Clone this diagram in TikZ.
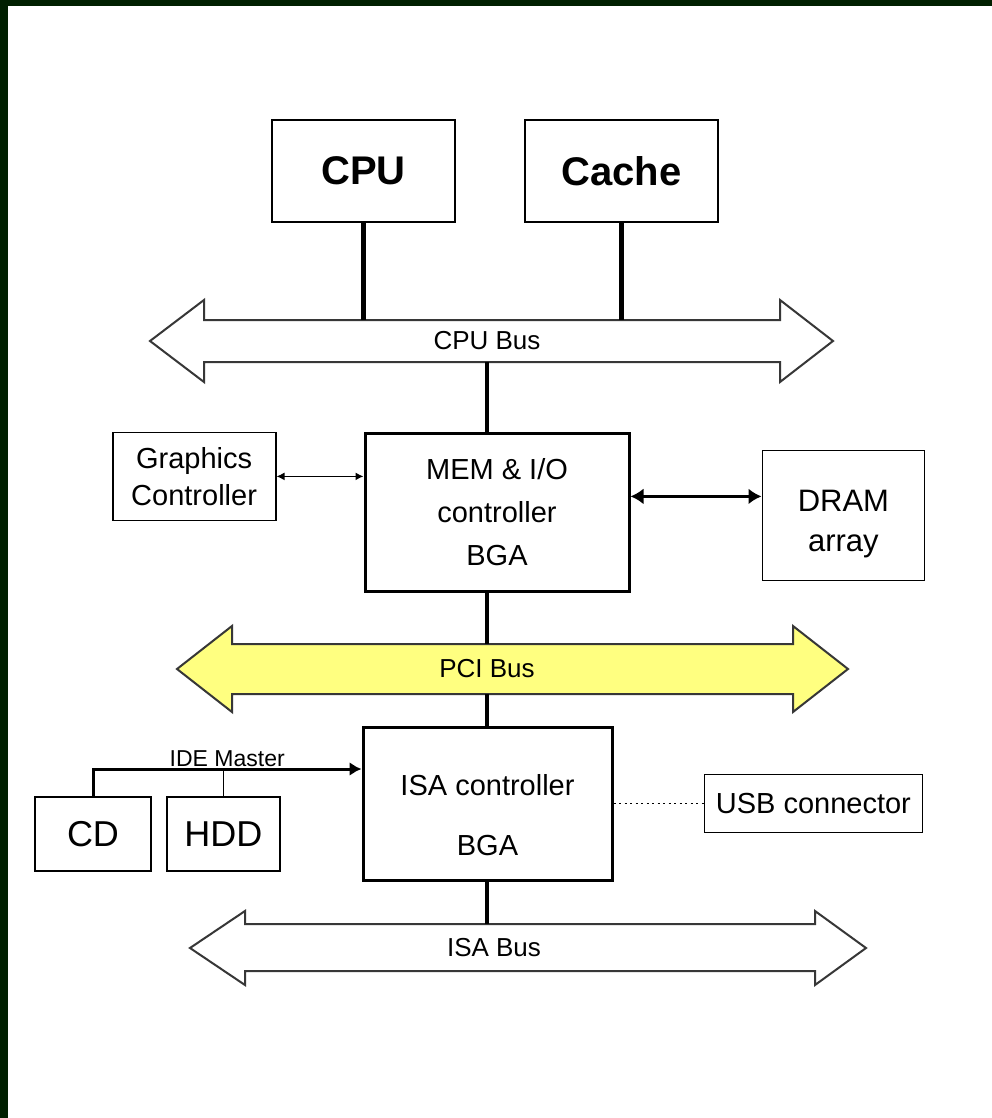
\documentclass[tikz,border=0pt]{standalone}
\usepackage{fontspec}
\setmainfont{Liberation Sans}
\usetikzlibrary{arrows.meta,positioning}
\definecolor{framegreen}{RGB}{0,32,0}
\definecolor{pciyellow}{RGB}{255,255,128}
\definecolor{busgray}{RGB}{55,55,55}
\tikzset{
  box/.style={draw=black,line width=1.8pt,fill=white,inner sep=0pt,align=center},
  chip/.style={draw=black,line width=3pt,fill=white,inner sep=0pt,align=center,
    font=\fontsize{29}{43}\selectfont},
  bigtxt/.style={font=\fontsize{40}{44}\selectfont\bfseries},
  lbl/.style={font=\fontsize{29}{37}\selectfont},
  drivetxt/.style={font=\fontsize{36}{40}\selectfont},
  buslab/.style={inner sep=0pt,font=\fontsize{26}{28}\selectfont},
  idelab/.style={inner sep=1pt,font=\fontsize{23}{25}\selectfont},
  busshape/.style={draw=busgray,line width=2pt,fill=white,line join=miter},
  trunkline/.style={line width=4.5pt},
  dropline/.style={line width=1.5pt},
  thinarr/.style={{Latex[length=8pt,width=8pt]}-{Latex[length=8pt,width=8pt]},line width=1.4pt},
  bigarr/.style={{Latex[length=13pt,width=16pt]}-{Latex[length=13pt,width=16pt]},line width=3pt},
  idearr/.style={-{Latex[length=12pt,width=14pt]},line width=3pt},
  usbline/.style={line width=1.8pt,dash pattern=on 2pt off 3.5pt}
}

\begin{document}
\begin{tikzpicture}[x=1pt,y=-1pt]
  \useasboundingbox (0,0) rectangle (992,1118);
  \fill[framegreen] (0,0) rectangle (992,1118);
  \fill[white] (8,6) rectangle (992,1118);

  % bus outlines
  \draw[busshape] (150,341) -- (204,300) -- (204,320) -- (780,320) -- (780,300)
    -- (833,341) -- (780,382) -- (780,362) -- (204,362) -- (204,382) -- cycle;
  \draw[busshape,fill=pciyellow] (177,669) -- (232,626) -- (232,644) -- (793,644)
    -- (793,626) -- (848,669) -- (793,712) -- (793,694) -- (232,694) -- (232,712) -- cycle;
  \draw[busshape] (190,948) -- (245,911) -- (245,924) -- (815,924) -- (815,911)
    -- (866,948) -- (815,985) -- (815,971) -- (245,971) -- (245,985) -- cycle;
  \node[buslab,minimum width=576pt,minimum height=42pt] (cpubus) at (487,341) {CPU Bus};
  \node[buslab,minimum width=561pt,minimum height=50pt] (pcibus) at (487,669) {PCI Bus};
  \node[buslab,minimum width=570pt,minimum height=47pt] (isabus) at (494,947.5) {ISA Bus};
  \coordinate (trunk) at (487,0);
  \coordinate (ide) at (0,769);

  \node[box,bigtxt,minimum width=183pt,minimum height=102pt] (cpu) at (363.5,171) {CPU};
  \node[box,bigtxt,minimum width=193pt,minimum height=102pt,right=68pt of cpu] (cache) {Cache};
  \node[chip,minimum width=264pt,minimum height=158pt] (mem) at (497,512)
    {MEM \& I/O\\controller\\BGA};
  \node[box,lbl,minimum width=163pt,minimum height=88pt,
    below left=0pt and 87pt of mem.north west] (gfx) {Graphics\\Controller};
  \node[box,lbl,font=\fontsize{31}{40}\selectfont,minimum width=162pt,minimum height=130pt,
    below right=18pt and 131pt of mem.north east] (dram) {\rule{0pt}{38pt}DRAM\\array};
  \node[chip,minimum width=249pt,minimum height=153pt] (isa) at (487.5,803.5)
    {\rule{0pt}{44pt}ISA controller\\[17pt]BGA};
  \node[box,lbl,minimum width=218pt,minimum height=58pt,right=90pt of isa] (usb) {USB connector};
  \node[box,drivetxt,minimum width=116pt,minimum height=74pt] (cd) at (93,834) {CD};
  \node[box,drivetxt,minimum width=113pt,minimum height=74pt,right=14pt of cd] (hdd) {HDD};

  \draw[trunkline] (cpu.south) -- (cpu.south |- cpubus.north);
  \draw[trunkline] (cache.south) -- (cache.south |- cpubus.north);
  \draw[trunkline] (cpubus.south -| trunk) -- (mem.north -| trunk);
  \draw[trunkline] (mem.south -| trunk) -- (pcibus.north -| trunk);
  \draw[trunkline] (pcibus.south -| trunk) -- (isa.north -| trunk);
  \draw[trunkline] (isa.south -| trunk) -- (isabus.north -| trunk);
  \draw[thinarr] (gfx.east) -- (gfx.east -| mem.west);
  \draw[bigarr] ([yshift=19pt]dram.west) -- ([yshift=19pt]dram.west -| mem.east);
  \draw[idearr] (cd.north) |- node[pos=0.75,above=0pt,idelab]{IDE Master} (isa.west |- ide);
  \draw[dropline] (hdd.north) -- (hdd.north |- ide);
  \draw[usbline] (isa.east |- usb.west) -- (usb.west);
\end{tikzpicture}
\end{document}
